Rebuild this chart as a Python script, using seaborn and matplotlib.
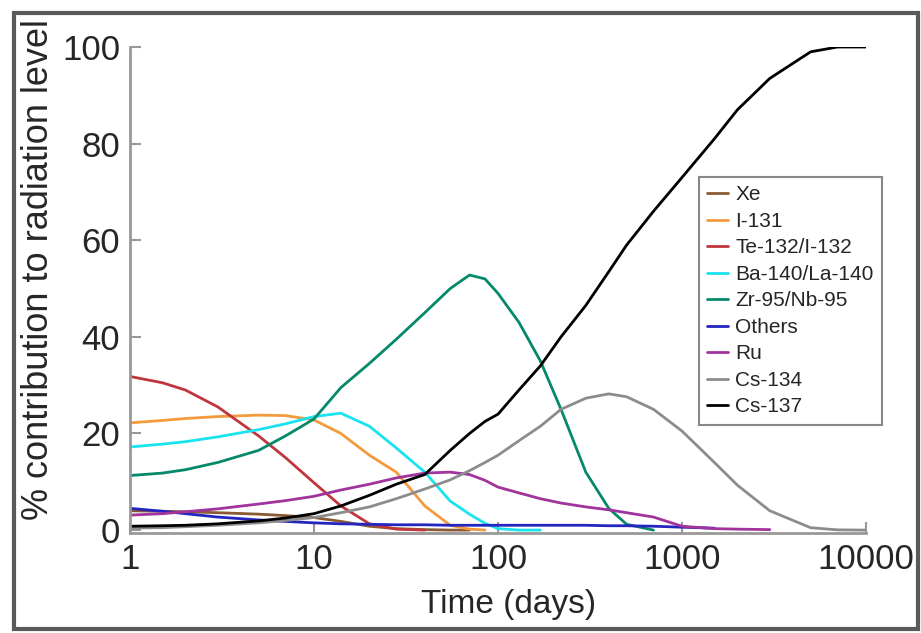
import numpy as np
import pandas as pd
import matplotlib
matplotlib.use('Agg')
import matplotlib.pyplot as plt
from matplotlib.patches import Rectangle
import seaborn as sns

nan = np.nan

# time grid (days)
days = [1, 1.5, 2, 3, 5, 7, 10, 14, 20, 28, 40, 55, 70, 85, 100, 130, 170, 220,
        300, 400, 500, 700, 1000, 1500, 2000, 3000, 5000, 7000, 10000]

# % contribution per nuclide group
xe = [4.0, 3.9, 3.8, 3.6, 3.3, 3.0, 2.6, 1.8, 0.8, 0.3, 0.1, 0.0, 0.0,
      nan, nan, nan, nan, nan, nan, nan, nan, nan, nan, nan, nan, nan, nan, nan, nan]
i131 = [22.2, 22.7, 23.1, 23.5, 23.8, 23.7, 22.8, 20.0, 15.5, 12.0, 5.0, 1.0, 0.2, 0.0,
        nan, nan, nan, nan, nan, nan, nan, nan, nan, nan, nan, nan, nan, nan, nan]
te132 = [31.8, 30.5, 29.0, 25.5, 19.5, 15.0, 9.8, 5.0, 1.3, 0.2, 0.0,
         nan, nan, nan, nan, nan, nan, nan, nan, nan, nan, nan, nan, nan, nan, nan, nan, nan, nan]
ba140 = [17.2, 17.8, 18.3, 19.3, 20.8, 22.0, 23.5, 24.2, 21.5, 17.0, 12.0, 6.0, 3.3, 1.4,
         0.3, 0.0, 0.0, nan, nan, nan, nan, nan, nan, nan, nan, nan, nan, nan, nan]
zr95 = [11.3, 11.8, 12.5, 14.0, 16.5, 19.5, 23.0, 29.5, 34.5, 39.5, 45.0, 50.0, 52.8, 52.0,
        49.0, 43.0, 35.0, 25.0, 12.0, 4.5, 1.2, 0.0, nan, nan, nan, nan, nan, nan, nan]
others = [4.5, 3.9, 3.4, 2.7, 2.1, 1.8, 1.5, 1.3, 1.2, 1.1, 1.1, 1.0, 1.0, 1.0, 1.0, 1.0,
          1.0, 1.0, 1.0, 0.9, 0.9, 0.8, 0.6, 0.4, nan, nan, nan, nan, nan]
ru = [3.1, 3.4, 3.8, 4.4, 5.4, 6.1, 7.0, 8.3, 9.5, 10.8, 11.8, 12.0, 11.5, 10.3, 8.9, 7.7,
      6.5, 5.6, 4.8, 4.2, 3.6, 2.7, 0.8, 0.3, 0.2, 0.1, nan, nan, nan]
cs134 = [0.4, 0.5, 0.7, 1.0, 1.5, 2.0, 2.6, 3.6, 4.8, 6.5, 8.5, 10.4, 12.3, 14.0, 15.5, 18.5,
         21.5, 25.0, 27.3, 28.2, 27.6, 25.0, 20.5, 14.0, 9.3, 4.0, 0.5, 0.05, 0.0]
cs137 = [0.8, 0.9, 1.0, 1.3, 1.9, 2.5, 3.4, 5.0, 7.2, 9.5, 11.5, 16.5, 20.0, 22.5, 24.0, 29.0,
         34.0, 40.0, 46.5, 53.5, 59.0, 66.0, 73.0, 81.0, 87.0, 93.5, 99.0, 100.0, 100.0]

names = ['Xe', 'I-131', 'Te-132/I-132', 'Ba-140/La-140', 'Zr-95/Nb-95',
         'Others', 'Ru', 'Cs-134', 'Cs-137']
series = [xe, i131, te132, ba140, zr95, others, ru, cs134, cs137]
colors = ['#8a5a32', '#f39a3c', '#c0363c', '#19e3ef', '#05896a',
          '#2424c0', '#a0339c', '#8c8c8c', '#000000']

df = pd.concat([pd.DataFrame({'Time': days, 'Pct': v, 'Nuclide': n})
                for n, v in zip(names, series)]).dropna()

sns.set_style('white')
plt.rcParams['font.family'] = ['Liberation Sans', 'DejaVu Sans']

fig = plt.figure(figsize=(9.21, 6.33), dpi=100)
ax = fig.add_axes([130/921, 100/633, 736/921, 486/633])

sns.lineplot(data=df, x='Time', y='Pct', hue='Nuclide', hue_order=names,
             palette=dict(zip(names, colors)), estimator=None, errorbar=None,
             linewidth=2, ax=ax)

ax.set_xscale('log')
ax.set_xlim(1, 10000)
ax.set_ylim(-0.6, 100)
ax.set_xticks([1, 10, 100, 1000, 10000])
ax.set_xticklabels(['1', '10', '100', '1000', '10000'])
ax.minorticks_off()
ax.set_yticks([0, 20, 40, 60, 80, 100])
ax.tick_params(axis='both', direction='in', length=8, width=1.5, color='#999999',
               labelsize=25, pad=7, left=True, bottom=True)
for s in ['top', 'right']:
    ax.spines[s].set_visible(False)
for s in ['left', 'bottom']:
    ax.spines[s].set_color('#999999')
    ax.spines[s].set_linewidth(2)
ax.set_xlabel('Time (days)', fontsize=24)
ax.set_ylabel('% contribution to radiation level', fontsize=26)
ax.xaxis.set_label_coords(0.514, -0.115)
ax.yaxis.set_label_coords(-0.10, 0.543)

h, l = ax.get_legend_handles_labels()
leg = ax.legend(h, l, loc='upper left', bbox_to_anchor=(699/921, 1 - 177/633),
                bbox_transform=fig.transFigure, borderaxespad=0, fontsize=15,
                labelspacing=0.36, handlelength=1.0, handletextpad=0.35, borderpad=0.4,
                fancybox=False, framealpha=1, edgecolor='#888888')
leg.get_frame().set_linewidth(1.5)

# screenshot-like outer frame
fig.patches.append(Rectangle((14/921, 4/633), 904/921, 616/633, transform=fig.transFigure,
                             fill=False, edgecolor='#5a5a5a', linewidth=3))

fig.savefig('out.png', dpi=100)
